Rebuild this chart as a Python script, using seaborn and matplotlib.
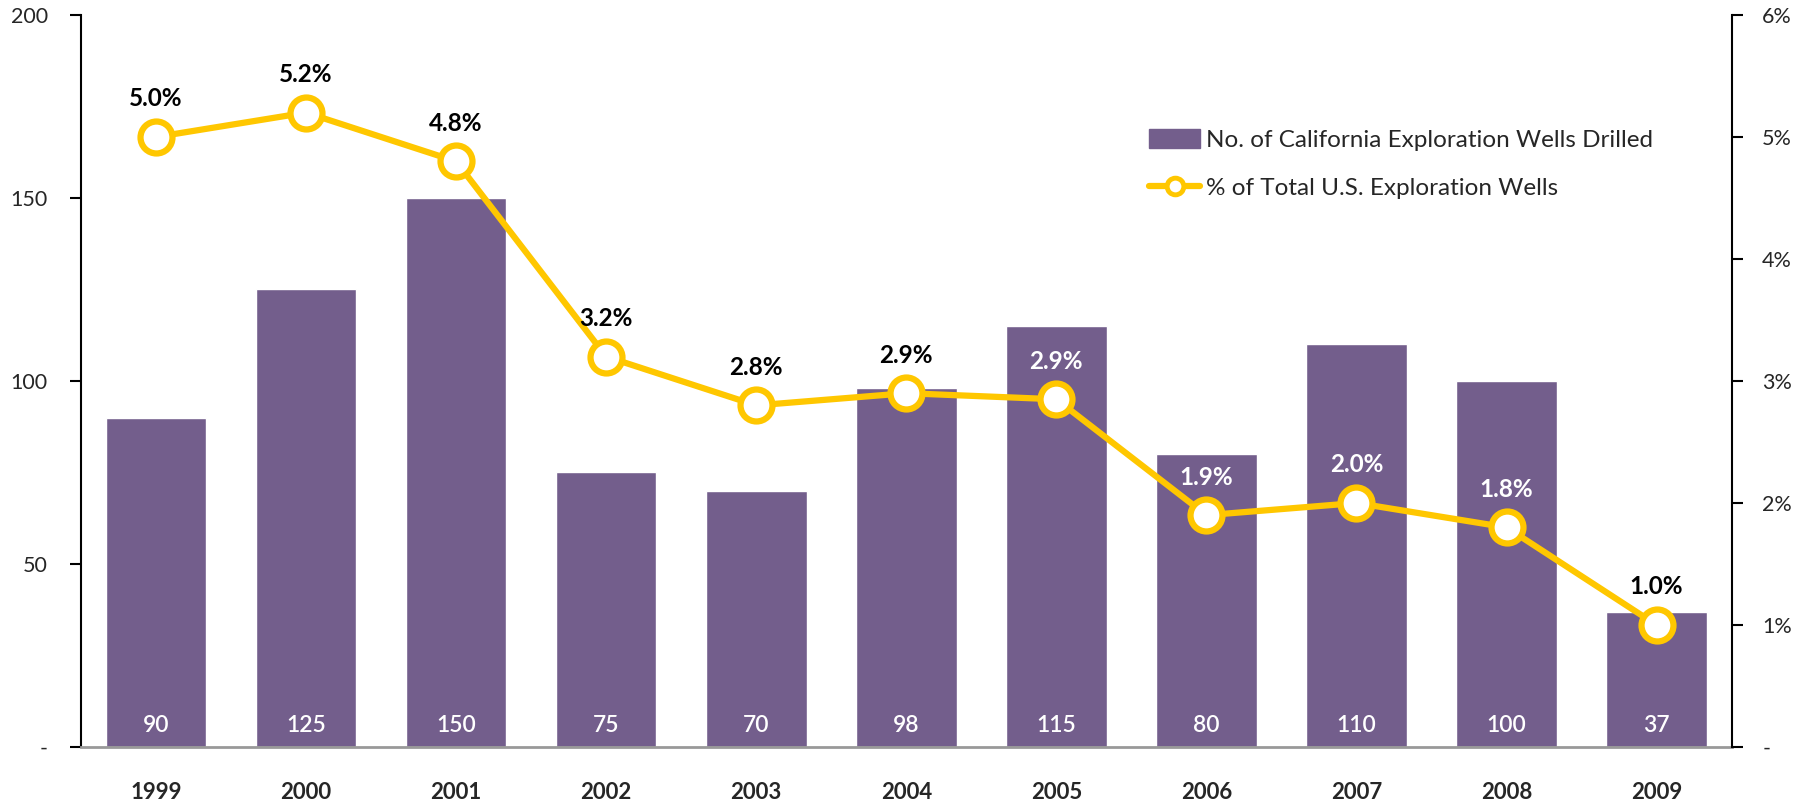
import matplotlib
matplotlib.use("Agg")
import matplotlib.pyplot as plt
import seaborn as sns
import numpy as np
import pandas as pd
from matplotlib.patches import Patch
from matplotlib.lines import Line2D
from matplotlib.ticker import FixedLocator, FixedFormatter

years = ["1999", "2000", "2001", "2002", "2003", "2004", "2005", "2006", "2007", "2008", "2009"]
wells = [90, 125, 150, 75, 70, 98, 115, 80, 110, 100, 37]
pct = [5.0, 5.2, 4.8, 3.2, 2.8, 2.9, 2.85, 1.9, 2.0, 1.8, 1.0]
pct_labels = ["5.0%", "5.2%", "4.8%", "3.2%", "2.8%", "2.9%", "2.9%", "1.9%", "2.0%", "1.8%", "1.0%"]
left_ticks = [0, 50, 100, 150, 200]
left_ticklabels = ["-", "50", "100", "150", "200"]
right_ticks = [0, 1, 2, 3, 4, 5, 6]
right_ticklabels = ["-", "1%", "2%", "3%", "4%", "5%", "6%"]
bar_name = "No. of California Exploration Wells Drilled"
line_name = "% of Total U.S. Exploration Wells"

BAR = "#735E8C"
GOLD = "#FFC700"
FONT = ["Lato", "DejaVu Sans"]

sns.set_theme(style="white")
plt.rcParams["font.family"] = FONT

df = pd.DataFrame({"year": years, "wells": wells, "pct": pct})

fig = plt.figure(figsize=(18, 8.02), dpi=100)
ax = fig.add_axes([0.045, 0.0686, 0.917, 0.9127])

sns.barplot(data=df, x="year", y="wells", color=BAR, saturation=1, width=0.67, ax=ax)
ax.set_ylim(0, 200)
ax.set_xlim(-0.5, len(years) - 0.5)

ax2 = ax.twinx()
sns.pointplot(data=df, x="year", y="pct", color=GOLD, ax=ax2, markers="o",
              markersize=23, linewidth=4.5, markerfacecolor="white",
              markeredgecolor=GOLD, markeredgewidth=4.5)
ax2.set_ylim(0, 6)
ax2.set_xlim(-0.5, len(years) - 0.5)

# bar value labels
for i, v in enumerate(wells):
    ax.annotate(str(v), (i, 0), xytext=(0, 21), textcoords="offset pixels",
                ha="center", va="center", color="white", fontsize=16.5, fontweight="semibold")

# percentage labels
for i, (p, lab) in enumerate(zip(pct, pct_labels)):
    px_per_pct = 732 / 6.0
    label_val_left = (p + 37 / px_per_pct) * 200 / 6
    col = "white" if label_val_left < wells[i] - 3 else "black"
    ax2.annotate(lab, (i, p), xytext=(0, 38), textcoords="offset pixels",
                 ha="center", va="center", color=col, fontsize=17.5, fontweight="bold")

# axes styling
for a in (ax, ax2):
    a.spines["top"].set_visible(False)
    a.set_xlabel("")
    a.set_ylabel("")
ax.spines["right"].set_visible(False)
ax.spines["left"].set_color("black")
ax.spines["left"].set_linewidth(1.5)
ax.spines["bottom"].set_color("#999999")
ax.spines["bottom"].set_linewidth(2)
ax2.spines["left"].set_visible(False)
ax2.spines["bottom"].set_visible(False)
ax2.spines["right"].set_color("black")
ax2.spines["right"].set_linewidth(1.5)

ax.yaxis.set_major_locator(FixedLocator(left_ticks))
ax.yaxis.set_major_formatter(FixedFormatter(left_ticklabels))
ax.tick_params(axis="y", which="major", left=True, direction="out", length=8, width=1.5,
               color="black", labelsize=15.5, pad=16)
ax2.yaxis.set_major_locator(FixedLocator(right_ticks))
ax2.yaxis.set_major_formatter(FixedFormatter(right_ticklabels))
ax2.tick_params(axis="y", which="major", right=True, direction="out", length=8, width=1.5,
                color="black", labelsize=15.5, pad=14)

ax.set_xticks(range(len(years)))
ax.set_xticklabels(years, fontweight="bold", fontsize=16)
ax.tick_params(axis="x", bottom=False, length=0, pad=25)
ax2.tick_params(axis="x", bottom=False, top=False, labelbottom=False)

handles = [Patch(facecolor=BAR, edgecolor=BAR),
           Line2D([0], [0], color=GOLD, lw=4.5, marker="o", markersize=12,
                  markerfacecolor="white", markeredgecolor=GOLD, markeredgewidth=3.5)]
leg = ax2.legend(handles, [bar_name, line_name], loc="upper left",
                 bbox_to_anchor=(0.633, 0.851), bbox_transform=fig.transFigure,
                 frameon=False, fontsize=17.5, handlelength=2.1, handleheight=0.8,
                 labelspacing=1.08, handletextpad=0.25, borderaxespad=0)

fig.savefig("out.png", dpi=100)
